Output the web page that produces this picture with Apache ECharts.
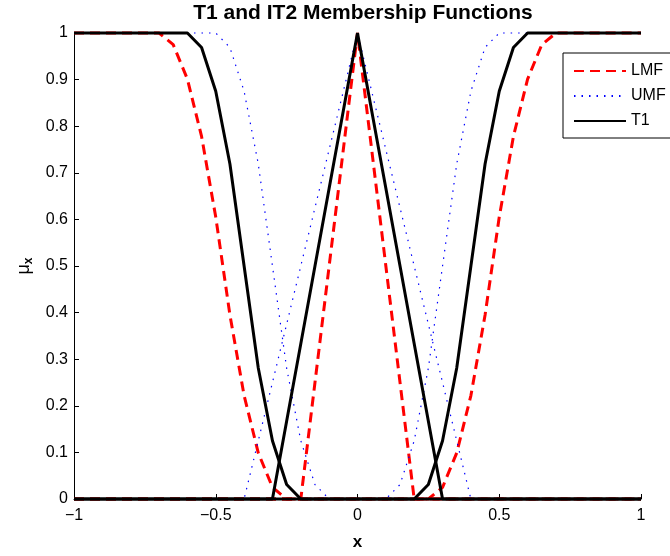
<!DOCTYPE html>
<html>
<head>
<meta charset="utf-8">
<script src="https://cdn.jsdelivr.net/npm/echarts@6/dist/echarts.min.js"></script>
<style>
  html, body { margin: 0; padding: 0; background: #fff; }
  #chart { width: 670px; height: 556px; }
</style>
</head>
<body>
<div id="chart"></div>
<script>
// Sample points along x, step 0.05 from -1 to 1
const xs = [-1, -0.95, -0.9, -0.85, -0.8, -0.75, -0.7, -0.65, -0.6, -0.55,
  -0.5, -0.45, -0.4, -0.35, -0.3, -0.25, -0.2, -0.15, -0.1, -0.05,
  0, 0.05, 0.1, 0.15, 0.2, 0.25, 0.3, 0.35, 0.4, 0.45,
  0.5, 0.55, 0.6, 0.65, 0.7, 0.75, 0.8, 0.85, 0.9, 0.95, 1];

// Lower membership functions (left shoulder, centre triangle, right shoulder)
const lmfLeft = [1, 1, 1, 1, 1, 1, 1, 0.975, 0.901, 0.778,
  0.605, 0.395, 0.222, 0.099, 0.025, 0, 0, 0, 0, 0,
  0, 0, 0, 0, 0, 0, 0, 0, 0, 0,
  0, 0, 0, 0, 0, 0, 0, 0, 0, 0, 0];
const lmfMid = [0, 0, 0, 0, 0, 0, 0, 0, 0, 0,
  0, 0, 0, 0, 0, 0, 0, 0.25, 0.5, 0.75,
  1, 0.75, 0.5, 0.25, 0, 0, 0, 0, 0, 0,
  0, 0, 0, 0, 0, 0, 0, 0, 0, 0, 0];
const lmfRight = [0, 0, 0, 0, 0, 0, 0, 0, 0, 0,
  0, 0, 0, 0, 0, 0, 0, 0, 0, 0,
  0, 0, 0, 0, 0, 0, 0.025, 0.099, 0.222, 0.395,
  0.605, 0.778, 0.901, 0.975, 1, 1, 1, 1, 1, 1, 1];

// Upper membership functions
const umfLeft = [1, 1, 1, 1, 1, 1, 1, 1, 1, 1,
  1, 0.969, 0.875, 0.719, 0.5, 0.281, 0.125, 0.031, 0, 0,
  0, 0, 0, 0, 0, 0, 0, 0, 0, 0,
  0, 0, 0, 0, 0, 0, 0, 0, 0, 0, 0];
const umfMid = [0, 0, 0, 0, 0, 0, 0, 0, 0, 0,
  0, 0, 0, 0.125, 0.25, 0.375, 0.5, 0.625, 0.75, 0.875,
  1, 0.875, 0.75, 0.625, 0.5, 0.375, 0.25, 0.125, 0, 0,
  0, 0, 0, 0, 0, 0, 0, 0, 0, 0, 0];
const umfRight = [0, 0, 0, 0, 0, 0, 0, 0, 0, 0,
  0, 0, 0, 0, 0, 0, 0, 0, 0, 0,
  0, 0, 0, 0.031, 0.125, 0.281, 0.5, 0.719, 0.875, 0.969,
  1, 1, 1, 1, 1, 1, 1, 1, 1, 1, 1];

// Type-1 membership functions
const t1Left = [1, 1, 1, 1, 1, 1, 1, 1, 1, 0.969,
  0.875, 0.719, 0.5, 0.281, 0.125, 0.031, 0, 0, 0, 0,
  0, 0, 0, 0, 0, 0, 0, 0, 0, 0,
  0, 0, 0, 0, 0, 0, 0, 0, 0, 0, 0];
const t1Mid = [0, 0, 0, 0, 0, 0, 0, 0, 0, 0,
  0, 0, 0, 0, 0, 0.167, 0.333, 0.5, 0.667, 0.833,
  1, 0.833, 0.667, 0.5, 0.333, 0.167, 0, 0, 0, 0,
  0, 0, 0, 0, 0, 0, 0, 0, 0, 0, 0];
const t1Right = [0, 0, 0, 0, 0, 0, 0, 0, 0, 0,
  0, 0, 0, 0, 0, 0, 0, 0, 0, 0,
  0, 0, 0, 0, 0, 0.031, 0.125, 0.281, 0.5, 0.719,
  0.875, 0.969, 1, 1, 1, 1, 1, 1, 1, 1, 1];

const xTicks = [-1, -0.5, 0, 0.5, 1];
const yTicks = [0, 0.1, 0.2, 0.3, 0.4, 0.5, 0.6, 0.7, 0.8, 0.9, 1];

const FONT = 'Liberation Sans, Arial, Helvetica, sans-serif';

const pairs = ys => xs.map((x, i) => [x, ys[i]]);

const styles = {
  LMF: { color: '#ff0000', width: 3, type: [10, 6] },
  UMF: { color: '#0000ff', width: 1.2, type: [1.5, 6] },
  T1:  { color: '#000000', width: 3, type: 'solid' }
};

const groups = [
  ['LMF', [lmfLeft, lmfMid, lmfRight]],
  ['UMF', [umfLeft, umfMid, umfRight]],
  ['T1',  [t1Left, t1Mid, t1Right]]
];

const series = [];
groups.forEach(([name, curves]) => {
  curves.forEach(ys => {
    series.push({
      name: name,
      type: 'line',
      data: pairs(ys),
      symbol: 'none',
      showSymbol: false,
      clip: false,
      color: styles[name].color,
      lineStyle: Object.assign({}, styles[name]),
      emphasis: { disabled: true }
    });
  });
});

const fmtMinus = v => String(v).replace('-', '\u2212');

const chart = echarts.init(document.getElementById('chart'), null, { renderer: 'canvas' });
chart.setOption({
  animation: false,
  backgroundColor: '#ffffff',
  title: {
    text: 'T1 and IT2 Membership Functions',
    left: 358, top: -2,
    textAlign: 'center',
    textStyle: { fontFamily: FONT, fontWeight: 'bold', fontSize: 21, color: '#000' }
  },
  legend: {
    data: ['LMF', 'UMF', 'T1'],
    orient: 'vertical',
    left: 563, top: 53,
    padding: [10, 14, 9, 10],
    itemWidth: 52, itemHeight: 16, itemGap: 9,
    itemStyle: { opacity: 0 },
    backgroundColor: '#ffffff',
    borderColor: '#000000', borderWidth: 1,
    textStyle: { fontFamily: FONT, fontSize: 16, color: '#000', lineHeight: 16 }
  },
  grid: { left: 74, right: 29, top: 33, bottom: 55, containLabel: false },
  xAxis: {
    type: 'value', min: xTicks[0], max: xTicks[xTicks.length - 1], interval: 0.5,
    name: 'x', nameLocation: 'middle', nameGap: 35,
    nameTextStyle: { fontFamily: FONT, fontWeight: 'bold', fontSize: 17, color: '#000' },
    axisLine: { onZero: false, lineStyle: { color: '#000', width: 1 } },
    axisTick: { inside: true, length: 5, lineStyle: { color: '#000' } },
    axisLabel: { fontFamily: FONT, fontSize: 16, color: '#000', margin: 9, formatter: fmtMinus },
    splitLine: { show: false }
  },
  yAxis: {
    type: 'value', min: yTicks[0], max: yTicks[yTicks.length - 1], interval: 0.1,
    name: '{mu|\u03bc}{sub|x}', nameLocation: 'middle', nameGap: 38, nameRotate: 90,
    nameTextStyle: {
      color: '#000',
      rich: {
        mu: { fontFamily: FONT, fontSize: 18, color: '#000' },
        sub: { fontFamily: FONT, fontSize: 12, fontWeight: 'bold', color: '#000', padding: [10, 0, 0, 0] }
      }
    },
    axisLine: { show: true, onZero: false, lineStyle: { color: '#000', width: 1 } },
    axisTick: { show: true, inside: true, length: 5, lineStyle: { color: '#000' } },
    axisLabel: { fontFamily: FONT, fontSize: 16, color: '#000', margin: 6,
      formatter: v => String(Math.round(v * 10) / 10) },
    splitLine: { show: false }
  },
  series: series
});
</script>
</body>
</html>
